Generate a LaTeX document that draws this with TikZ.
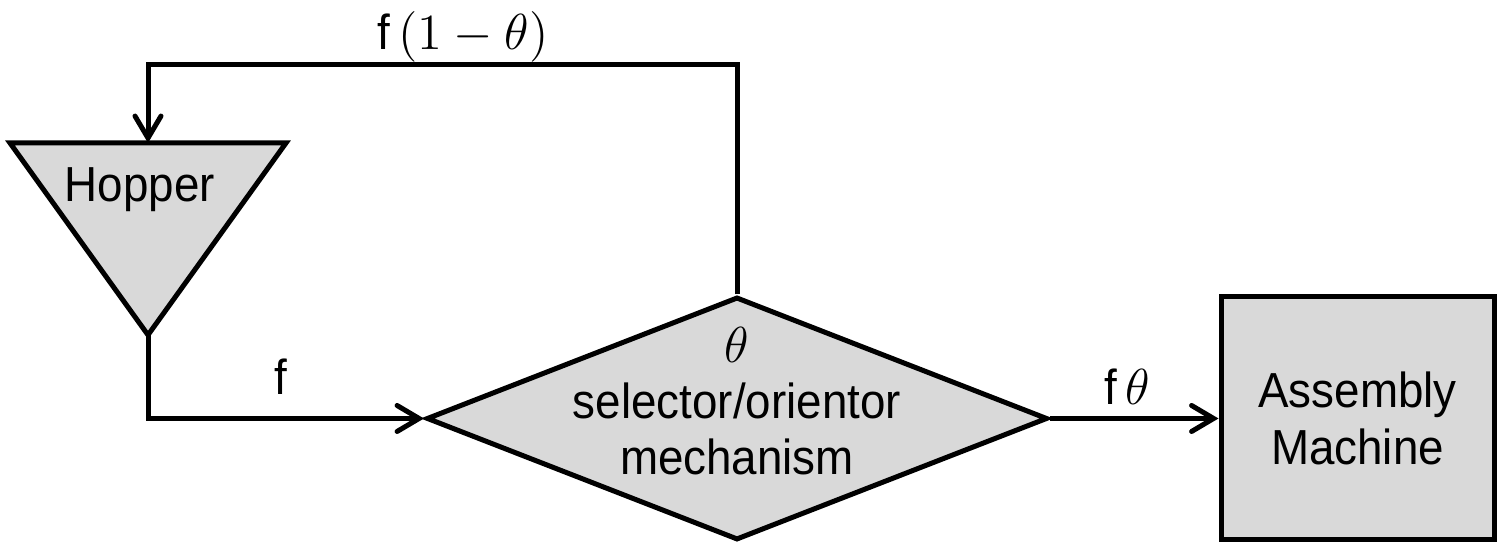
\documentclass[tikz,border=0pt]{standalone}
\usepackage{fontspec}
\setmainfont[FakeStretch=0.93]{Liberation Sans}
\usetikzlibrary{shapes.geometric,arrows.meta}

\begin{document}
\begin{tikzpicture}[line width=0.5mm, >={Straight Barb[length=2.2mm,width=2.6mm,line cap=round]}, font=\fontsize{14}{16}\selectfont]

    % Цвета блоков
    \definecolor{blockcolor}{RGB}{217,217,217}  % светло-серый

    % Рамка рисунка
    \useasboundingbox (0,0) rectangle (14.98,5.44);

    % Бункер (перевёрнутый треугольник)
    \coordinate (HL) at (0.10,4.01);
    \coordinate (HR) at (2.86,4.01);
    \coordinate (HB) at (1.48,2.09);
    \coordinate (HT) at (1.48,4.01);
    \draw[fill=blockcolor] (HL) -- (HR) -- (HB) -- cycle;
    \node[anchor=base] (H) at (1.40,3.42) {Hopper};

    % Селектор / ориентатор
    \node[draw, diamond, fill=blockcolor, minimum width=6.21cm, minimum height=2.43cm, inner sep=0] (S) at (7.37,1.255) {};
    \node[align=center] (Stext) at (7.37,1.43) {$\theta$\\selector/orientor\\mechanism};

    % Сборочная машина
    \node[draw, rectangle, fill=blockcolor, minimum width=2.73cm, minimum height=2.43cm, align=center] (A) at (13.575,1.255) {Assembly\\Machine};

    % Связи
    \coordinate (FB) at (1.48,4.79);
    \draw[->] (S.north) |- (FB) -- (HT);
    \draw[->] (HB) |- (S.west);
    \draw[->] (S.east) -- (A.west);

    % Подписи потоков
    \node[anchor=base, inner sep=1pt] (Lback) at (4.63,4.94) {f\,$(1-\theta)$};
    \node[anchor=base, inner sep=1pt] (Lin) at (2.81,1.49) {f};
    \node[anchor=base, inner sep=1pt] (Lout) at (11.27,1.39) {f\,$\theta$};
\end{tikzpicture}
\end{document}
